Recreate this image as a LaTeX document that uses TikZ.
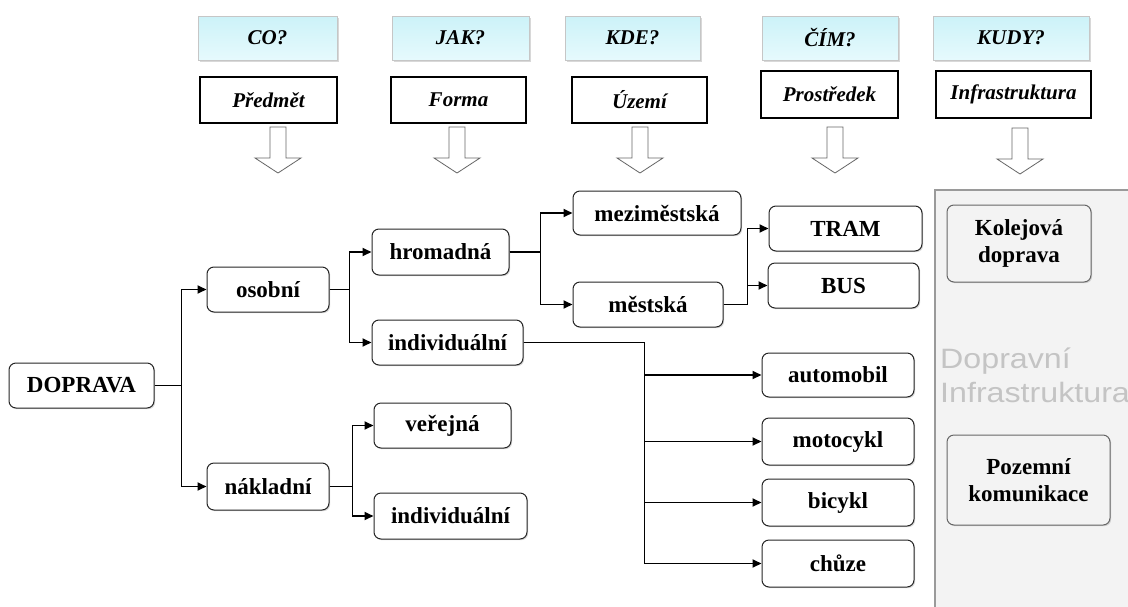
\documentclass[tikz,border=0pt]{standalone}
\usepackage{fontspec}
\setmainfont{Liberation Serif}
\newfontfamily\sansf{Liberation Sans}
\usetikzlibrary{arrows.meta,shadows}
\definecolor{panelfill}{HTML}{F3F3F3}
\definecolor{paneldraw}{HTML}{9A9A9A}
\definecolor{cyantop}{HTML}{CCF2F8}
\definecolor{cyanbot}{HTML}{E6FAFD}
\definecolor{ghost}{HTML}{C4C4C4}
\tikzset{
 tbox/.style={draw=black!85, line width=1pt, rounded corners=7pt, fill=white, inner sep=0pt,
   font=\bfseries\fontsize{23}{27}\selectfont,
   drop shadow={shadow xshift=1.2pt, shadow yshift=-1.2pt, opacity=0.3}},
 qbox/.style={draw=gray!45, line width=0.6pt, top color=cyantop, bottom color=cyanbot, inner sep=0pt,
   minimum height=44pt, font=\bfseries\itshape\fontsize{21}{25}\selectfont,
   drop shadow={shadow xshift=1.5pt, shadow yshift=-2pt, opacity=0.3}},
 cbox/.style={draw=black, line width=1.3pt, fill=white, inner sep=0pt, minimum height=46pt,
   font=\bfseries\itshape\fontsize{21}{25}\selectfont},
 hollow/.style={draw=black!60, fill=white, line width=0.8pt},
 conn/.style={draw=black, line width=1.8pt},
 arr/.style={conn, -{Triangle[length=9pt,width=8pt]}},
 ibox/.style={tbox, fill=panelfill, draw=black!60, align=center, font=\bfseries\fontsize{23}{27}\selectfont},
 ghosttext/.style={text=ghost, font=\sansf\fontsize{28}{34}\selectfont, inner sep=0pt, anchor=base west},
 harrow/.pic={\draw[hollow] (-8,0)--(8,0)--(8,31)--(23,31)--(0,46)--(-23,31)--(-8,31)--cycle;}
}
\begin{document}
\begin{tikzpicture}[x=1pt,y=-1pt]
\useasboundingbox[fill=white] (0,0) rectangle (1128,606);
% right panel
\draw[fill=panelfill, draw=paneldraw, line width=1.5pt] (935,190) rectangle (1145,625);
\node[ghosttext] (dtx1) at (940,368) {\scalebox{1.15}[1]{Dopravní}};
\node[ghosttext] (dtx2) at (940,402) {\scalebox{1.15}[1]{Infrastruktura}};
\node[ibox, minimum width=144pt, minimum height=77pt] (kol) at (1019,243.5) {Kolejová\\doprava};
\node[ibox, minimum width=163pt, minimum height=90pt] (poz) at (1028.5,480) {Pozemní\\komunikace};

% header question boxes
\node[qbox, minimum width=139pt] (qco) at (267.5,38) {CO?};
\node[qbox, minimum width=137pt] (qjak) at (460.5,38) {JAK?};
\node[qbox, minimum width=135pt] (qkde) at (632.5,38) {KDE?};
\node[qbox, minimum width=136pt] (qcim) at (830,38) {ČÍM?};
\node[qbox, minimum width=156pt] (qkudy) at (1011,38) {KUDY?};
% category boxes
\node[cbox, minimum width=137pt] (cpre) at (268.5,100) {Předmět};
\node[cbox, minimum width=135pt] (cfor) at (458.5,100) {Forma};
\node[cbox, minimum width=135pt] (cuze) at (639.5,100) {Území};
\node[cbox, minimum width=137pt, minimum height=47pt] (cpro) at (829.5,94.5) {Prostředek};
\node[cbox, minimum width=155pt, minimum height=47pt] (cinf) at (1013.5,94.5) {Infrastruktura};
% hollow arrows
\pic at (278,127) {harrow};
\pic at (457,127) {harrow};
\pic at (640,127) {harrow};
\pic at (835,127) {harrow};
\pic at (1020,128) {harrow};

% tree nodes
\node[tbox, minimum width=145pt, minimum height=45pt] (dop) at (81.5,385.5) {DOPRAVA};
\node[tbox, minimum width=122pt, minimum height=45pt] (oso) at (268,289.5) {osobní};
\node[tbox, minimum width=122pt, minimum height=47pt] (nak) at (268,486.5) {nákladní};
\node[tbox, minimum width=137pt, minimum height=46pt] (hrom) at (440.5,252) {hromadná};
\node[tbox, minimum width=151pt, minimum height=45pt] (ind1) at (447.5,342.5) {individuální};
\node[tbox, minimum width=137pt, minimum height=45pt] (ver) at (442.5,425.5) {veřejná};
\node[tbox, minimum width=153pt, minimum height=46pt] (ind2) at (450.5,516) {individuální};
\node[tbox, minimum width=168pt, minimum height=44pt] (mezi) at (657,213) {meziměstská};
\node[tbox, minimum width=150pt, minimum height=45pt] (mest) at (648,304.5) {městská};
\node[tbox, minimum width=153pt, minimum height=45pt] (tram) at (845.5,228.5) {TRAM};
\node[tbox, minimum width=151pt, minimum height=45pt] (bus) at (843.5,285.5) {BUS};
\node[tbox, minimum width=152pt, minimum height=44pt] (auto) at (838,375) {automobil};
\node[tbox, minimum width=152pt, minimum height=47pt] (moto) at (838,441.5) {motocykl};
\node[tbox, minimum width=152pt, minimum height=47pt] (bic) at (838,502.5) {bicykl};
\node[tbox, minimum width=152pt, minimum height=47pt] (chu) at (838,563.5) {chůze};

% connectors
\draw[arr] (dop.east) -- ++(27,0) |- (oso.west);
\draw[arr] (dop.east) -- ++(27,0) |- (nak.west);
\draw[arr] (oso.east) -- ++(20,0) |- (hrom.west);
\draw[arr] (oso.east) -- ++(20,0) |- (ind1.west);
\draw[arr] (nak.east) -- ++(23,0) |- (ver.west);
\draw[arr] (nak.east) -- ++(23,0) |- (ind2.west);
\draw[arr] (hrom.east) -- ++(31,0) |- (mezi.west);
\draw[arr] (hrom.east) -- ++(31,0) |- (mest.west);
\draw[arr] (mest.east) -- ++(24,0) |- (tram.west);
\draw[arr] (mest.east) -- ++(24,0) |- (bus.west);
\draw[arr] (ind1.east) -- ++(121,0) |- (auto.west);
\draw[arr] (ind1.east) -- ++(121,0) |- (moto.west);
\draw[arr] (ind1.east) -- ++(121,0) |- (bic.west);
\draw[arr] (ind1.east) -- ++(121,0) |- (chu.west);
\end{tikzpicture}
\end{document}
